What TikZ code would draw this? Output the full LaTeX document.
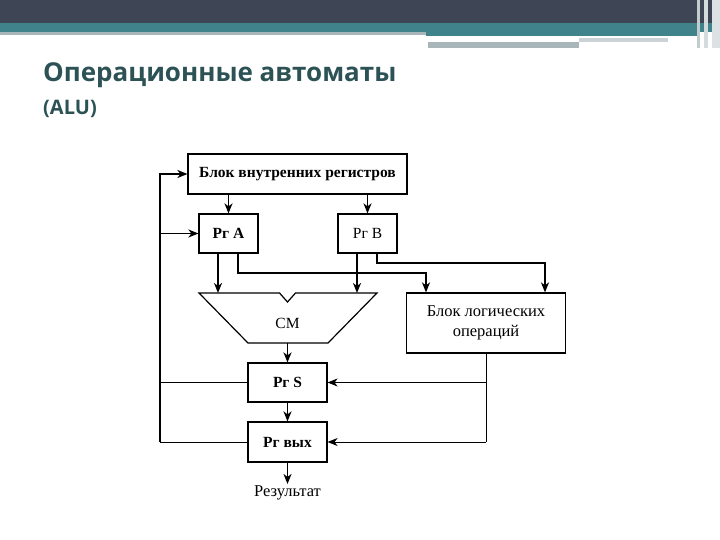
\documentclass[tikz,border=0pt]{standalone}
\usepackage{fontspec}
\setmainfont{Liberation Serif}
\newfontfamily\titlefont{Open Sans}
\usetikzlibrary{arrows.meta}
\definecolor{topdark}{HTML}{3E4555}
\definecolor{topteal}{HTML}{41838B}
\definecolor{topgray}{HTML}{A8B6BA}
\definecolor{titlecol}{HTML}{2C5255}
\begin{document}
\begin{tikzpicture}[x=1pt,y=-1pt,
  box/.style={draw, line width=1.2pt, inner sep=0pt},
  conn/.style={line width=1.8pt},
  thin/.style={line width=1.0pt},
  tip/.style={-{Stealth[length=10pt,width=8pt,inset=3pt]}},
  lbl/.style={font=\fontsize{15.5}{18}\selectfont},
  lblb/.style={font=\fontsize{15.5}{18}\selectfont\bfseries}]
\useasboundingbox (0,0) rectangle (720,540);
% header
\fill[topdark] (0,0) rectangle (720,23);
\fill[topteal] (0,23) rectangle (720,32);
\fill[topgray] (0,32) rectangle (426,35);
\fill[topteal] (426,32) rectangle (700,36);
\fill[topgray] (428,42) rectangle (579,48);
\fill[topgray!60] (579,38) rectangle (668,42);
\fill[topgray!70] (697,0) rectangle (700,48);
\fill[topgray!50] (704,0) rectangle (708,48);
\fill[topgray!40] (712,0) rectangle (720,48);
% title
\node[anchor=base west, inner sep=0pt, text=titlecol, font=\titlefont\bfseries\fontsize{26}{30}\selectfont] (title) at (43,82) {Операционные автоматы};
\node[anchor=base west, inner sep=0pt, text=titlecol, font=\titlefont\bfseries\fontsize{20}{24}\selectfont] (alu) at (43,115) {(ALU)};
% nodes
\node[box, lblb, minimum width=219pt, minimum height=40pt] (blk) at (297.5,174) {Блок внутренних регистров};
\node[box, lblb, minimum width=59pt, minimum height=39pt] (rga) at (228.5,233.5) {Рг A};
\node[box, lbl, minimum width=59pt, minimum height=39pt] (rgb) at (367.5,233.5) {Рг B};
\node[box, align=center, font=\fontsize{16.5}{19}\selectfont, minimum width=159pt, minimum height=60pt] (logic) at (486,323) {Блок логических\\[1pt]операций};
\node[box, lblb, minimum width=79pt, minimum height=39pt] (rgs) at (287.5,382.5) {Рг S};
\node[box, lblb, minimum width=79pt, minimum height=40pt] (rgout) at (287.5,442) {Рг вых};
\node[font=\fontsize{16.5}{19}\selectfont, inner sep=1pt, anchor=north] (res) at (287.5,484) {Результат};
% SM trapezoid
\coordinate (smTL) at (199,293);
\coordinate (smTR) at (377,293);
\coordinate (smBL) at (248,343);
\coordinate (smBR) at (328,343);
\coordinate (smB) at (287.5,343);
\draw[line width=1.2pt, line join=miter] (smTL) -- (279.5,293) -- (287.5,302) -- (295.5,293) -- (smTR) -- (smBR) -- (smBL) -- cycle;
\node[lbl] (sm) at (287.5,323) {СМ};
% connectors
\coordinate (bus) at (160,300);
\coordinate (a1) at (218,253);
\coordinate (a2) at (238,253);
\coordinate (b1) at (357,253);
\coordinate (b2) at (377,253);
\coordinate (ja) at (426,273);
\coordinate (jb) at (545,263);
\draw[conn, tip] (rga.north |- blk.south) -- (rga.north);
\draw[conn, tip] (rgb.north |- blk.south) -- (rgb.north);
\draw[conn, tip] (a1) -- (a1 |- smTL);
\draw[conn, tip] (b1) -- (b1 |- smTR);
\draw[conn, tip] (a2) |- (ja) -- (ja |- logic.north);
\draw[conn, tip] (b2) |- (jb) -- (jb |- logic.north);
\draw[conn, tip] (smB) -- (rgs.north);
\draw[conn, tip] (rgs.south) -- (rgout.north);
\draw[conn, tip] (rgout.south) -- (res.north);
\draw[thin] (rgout.west) -- (rgout.west -| bus);
\draw[conn, tip] (rgout.west -| bus) -- (bus) |- (blk.west);
\draw[thin] (rgs.west) -- (rgs.west -| bus);
\draw[conn, tip] (rga.west -| bus) -- (rga.west);
\draw[thin] (logic.south) -- (logic.south |- rgout.east);
\draw[thin, tip] (logic.south |- rgout.east) -- (rgout.east);
\draw[thin, tip] (rgs.east -| logic.south) -- (rgs.east);
\end{tikzpicture}
\end{document}
